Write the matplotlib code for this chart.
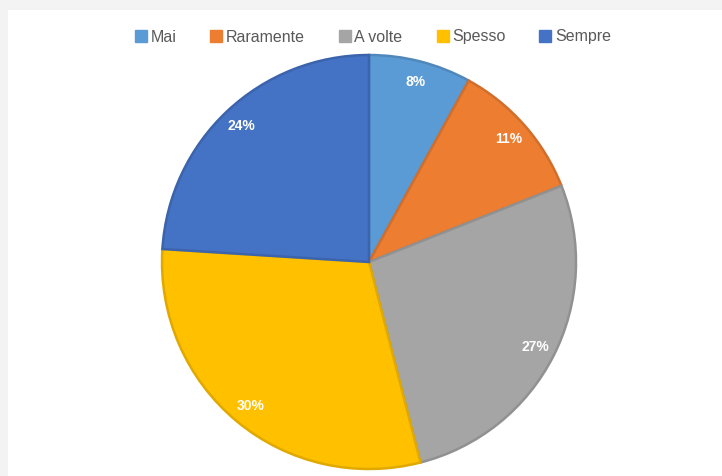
import numpy as np
import matplotlib.pyplot as plt
from matplotlib.patches import Rectangle
from matplotlib.lines import Line2D
import matplotlib.colors as mcolors

labels = ['Mai', 'Raramente', 'A volte', 'Spesso', 'Sempre']
values = [8, 11, 27, 30, 24]
colors = ['#5B9BD5', '#ED7D31', '#A5A5A5', '#FFC000', '#4472C4']

plt.rcParams['font.family'] = ['Liberation Sans Narrow', 'Liberation Sans', 'DejaVu Sans']

fig = plt.figure(figsize=(7.22, 4.76), dpi=100)
fig.patch.set_facecolor('#f3f3f3')
# white chart area (Excel-like frame with shadow)
fig.patches.append(Rectangle((8 / 722, 0), 1, 1 - 10 / 476, transform=fig.transFigure,
                             facecolor='white', edgecolor='none', zorder=-10))

ax = fig.add_axes([162 / 722, 7 / 476, 414 / 722, 414 / 476])
ax.set_zorder(2)
ax.set_facecolor('none')

def darker(c, f=0.88):
    r, g, b = mcolors.to_rgb(c)
    return (r * f, g * f, b * f)

wedges, texts, autotexts = ax.pie(values, colors=colors, startangle=90, counterclock=False,
                                  autopct='%1.0f%%', pctdistance=0.9, radius=1,
                                  textprops=dict(color='white', fontsize=10, fontweight='bold'))
for w, c in zip(wedges, colors):
    w.set_edgecolor(darker(c))
    w.set_linewidth(1.8)
ax.set_xlim(-1, 1)
ax.set_ylim(-1, 1)

handles = [Line2D([], [], marker='s', linestyle='none', markersize=8,
                  markerfacecolor=c, markeredgecolor=c) for c in colors]
fig.legend(handles, labels, loc='center', bbox_to_anchor=(372 / 722, 1 - 37 / 476),
           ncol=5, frameon=False, fontsize=11.5, labelcolor='#595959',
           handletextpad=0.1, columnspacing=2.0, handlelength=1.0)

fig.savefig('out.png', dpi=100)
